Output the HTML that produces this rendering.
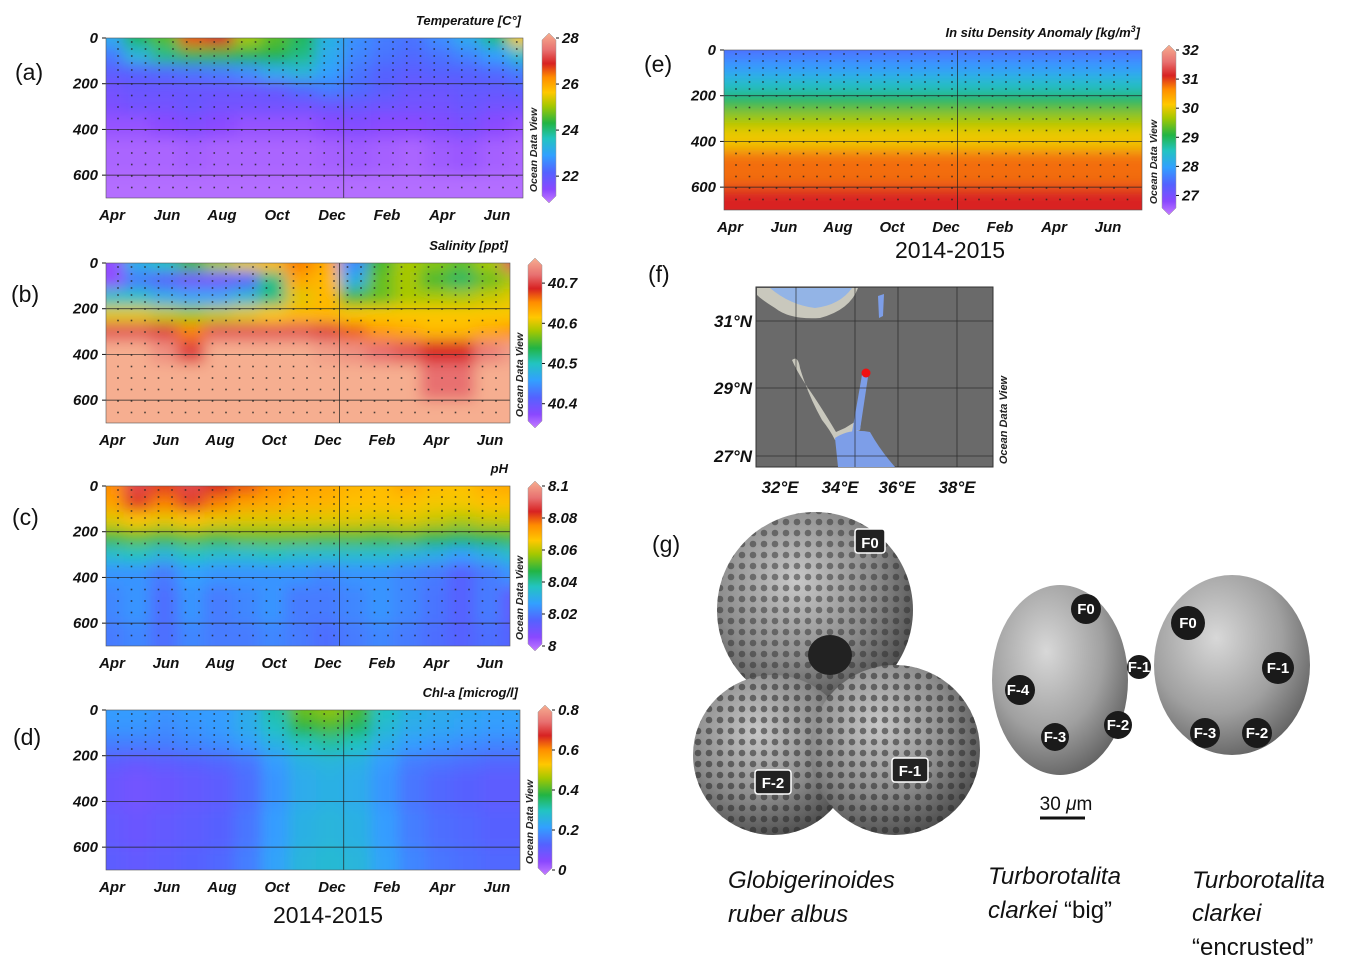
<!DOCTYPE html>
<html><head><meta charset="utf-8">
<style>
html,body{margin:0;padding:0;background:#fff;}
body{width:1359px;height:971px;overflow:hidden;position:relative;font-family:"Liberation Sans",sans-serif;}
svg text{font-family:"Liberation Sans",sans-serif;}
</style></head>
<body>
<svg id="fig" width="1359" height="971" viewBox="0 0 1359 971" xmlns="http://www.w3.org/2000/svg">
<defs>
<filter id="blur" x="-5%" y="-5%" width="110%" height="110%"><feGaussianBlur stdDeviation="7"/></filter>
<radialGradient id="foram" cx="40%" cy="35%" r="70%"><stop offset="0" stop-color="#c8c8c8"/><stop offset="0.6" stop-color="#8a8a8a"/><stop offset="1" stop-color="#4a4a4a"/></radialGradient>
<radialGradient id="foram2" cx="40%" cy="35%" r="70%"><stop offset="0" stop-color="#d8d8d8"/><stop offset="0.6" stop-color="#a0a0a0"/><stop offset="1" stop-color="#606060"/></radialGradient>
<pattern id="pores" width="11" height="11" patternUnits="userSpaceOnUse"><circle cx="5" cy="5" r="3.3" fill="#2a2a2a" opacity="0.7"/></pattern>
</defs>
<g id="plots"></g>
<g id="map">
 <rect x="756" y="287" width="237" height="180" fill="#6a6a6a" stroke="#333"/>
 <path d="M757 288 L858 288 Q850 310 820 318 Q790 320 775 308 Q762 300 757 295 Z" fill="#c9c8bd"/>
 <path d="M770 288 L852 288 Q840 305 815 308 Q790 305 770 288Z" fill="#93b4e6"/>
 <path d="M878 296 L884 294 L883 316 L879 318Z" fill="#7d9ee8"/>
 <path d="M792 360 Q798 355 800 368 Q808 395 822 420 Q830 430 835 440 L850 435 L860 430 L866 380 L862 375 L858 420 L845 428 L836 432 Q820 405 808 388 Q797 372 792 360Z" fill="#c9c8bd"/>
 <path d="M862 375 L868 377 L860 430 L852 432Z" fill="#7d9ee8"/>
 <path d="M835 438 Q850 428 870 432 Q880 450 895 467 L838 467Z" fill="#7d9ee8"/>
 <g stroke="#222" stroke-width="0.8" opacity="0.8">
  <line x1="796" y1="287" x2="796" y2="467"/><line x1="855" y1="287" x2="855" y2="467"/><line x1="898" y1="287" x2="898" y2="467"/><line x1="957" y1="287" x2="957" y2="467"/>
  <line x1="756" y1="321" x2="993" y2="321"/><line x1="756" y1="388" x2="993" y2="388"/><line x1="756" y1="456" x2="993" y2="456"/>
 </g>
 <circle cx="866" cy="373" r="4.5" fill="#f01010"/>
 <g font-weight="bold" font-style="italic" font-size="17" fill="#111">
  <text x="752" y="327" text-anchor="end">31°N</text><text x="752" y="394" text-anchor="end">29°N</text><text x="752" y="462" text-anchor="end">27°N</text>
  <text x="780" y="493" text-anchor="middle">32°E</text><text x="840" y="493" text-anchor="middle">34°E</text><text x="897" y="493" text-anchor="middle">36°E</text><text x="957" y="493" text-anchor="middle">38°E</text>
 </g>
 <text transform="translate(1007,420) rotate(-90)" text-anchor="middle" font-size="11" font-weight="bold" font-style="italic" fill="#222">Ocean Data View</text>
</g>
<g id="forams">
 <circle cx="815" cy="610" r="98" fill="url(#foram)"/>
 <circle cx="815" cy="610" r="98" fill="url(#pores)" opacity="0.7"/>
 <circle cx="773" cy="755" r="80" fill="url(#foram)"/>
 <circle cx="773" cy="755" r="80" fill="url(#pores)" opacity="0.8"/>
 <circle cx="895" cy="750" r="85" fill="url(#foram)"/>
 <circle cx="895" cy="750" r="85" fill="url(#pores)" opacity="0.8"/>
 <ellipse cx="830" cy="655" rx="22" ry="20" fill="#222"/>
 <g fill="#222" stroke="#fff" stroke-width="1.5"><rect x="855" y="529" width="30" height="24" rx="3"/><rect x="755" y="770" width="36" height="24" rx="3"/><rect x="892" y="758" width="36" height="24" rx="3"/></g>
 <ellipse cx="1060" cy="680" rx="68" ry="95" fill="url(#foram2)"/>
 <ellipse cx="1232" cy="665" rx="78" ry="90" fill="url(#foram2)"/>
 <g fill="#1a1a1a">
  <circle cx="1086" cy="609" r="15"/><circle cx="1020" cy="690" r="15"/><circle cx="1055" cy="737" r="14"/><circle cx="1118" cy="725" r="14"/><circle cx="1139" cy="667" r="12"/>
  <circle cx="1188" cy="623" r="17"/><circle cx="1278" cy="668" r="16"/><circle cx="1205" cy="733" r="15"/><circle cx="1257" cy="733" r="15"/>
 </g>
 <g fill="#fff" font-weight="bold" font-size="15" text-anchor="middle">
  <text x="870" y="548">F0</text><text x="773" y="788">F-2</text><text x="910" y="776">F-1</text>
  <text x="1086" y="614">F0</text><text x="1018" y="695">F-4</text><text x="1055" y="742">F-3</text><text x="1118" y="730">F-2</text><text x="1139" y="672">F-1</text>
  <text x="1188" y="628">F0</text><text x="1278" y="673">F-1</text><text x="1205" y="738">F-3</text><text x="1257" y="738">F-2</text>
 </g>
 <line x1="1040" y1="818" x2="1085" y2="818" stroke="#111" stroke-width="3"/>
 <text x="1066" y="810" text-anchor="middle" font-size="19" fill="#111">30 <tspan font-style="italic">μ</tspan>m</text>
 <g font-size="24" fill="#111" font-family="Liberation Sans">
  <text x="728" y="888" font-style="italic">Globigerinoides</text><text x="728" y="922" font-style="italic">ruber albus</text>
  <text x="988" y="884" font-style="italic">Turborotalita</text><text x="988" y="918"><tspan font-style="italic">clarkei</tspan> “big”</text>
  <text x="1192" y="888" font-style="italic">Turborotalita</text><text x="1192" y="921" font-style="italic">clarkei</text><text x="1192" y="955">“encrusted”</text>
 </g>
</g>
<g font-size="23" fill="#111">
 <text x="15" y="80">(a)</text>
 <text x="11" y="302">(b)</text>
 <text x="12" y="525">(c)</text>
 <text x="13" y="745">(d)</text>
 <text x="644" y="72">(e)</text>
 <text x="648" y="282">(f)</text>
 <text x="652" y="552">(g)</text>
 <text x="328" y="923" text-anchor="middle">2014-2015</text>
 <text x="950" y="258" text-anchor="middle">2014-2015</text>
</g>
</svg>
<script>
// depth levels (m) shared by all panels
const depths = [0, 75, 150, 225, 300, 375, 500, 700];
// months Apr 2014 .. Jul 2015
const monthLabels = ["Apr","Jun","Aug","Oct","Dec","Feb","Apr","Jun"];
const depthTicks = [0, 200, 400, 600];

const tempValues = [
 [23.2,24.2,24.6,26.5,26.8,25.0,24.6,24.2,23.3,22.8,22.6,22.5,22.8,23.2,24.0,25.5],
 [22.6,23.4,24.0,24.4,24.4,24.3,24.3,24.0,23.2,22.7,22.5,22.4,22.5,22.7,23.0,23.6],
 [22.2,22.3,22.4,22.5,22.6,22.8,23.2,23.4,23.0,22.5,22.3,22.2,22.3,22.3,22.4,22.6],
 [21.9,22.0,22.0,22.0,22.0,22.0,22.1,22.4,22.6,22.4,22.2,22.0,22.0,22.1,22.1,22.2],
 [21.8,21.9,21.9,22.0,21.9,21.9,21.9,21.9,22.0,22.0,21.95,21.9,21.9,22.0,21.9,21.9],
 [21.5,21.5,21.6,21.7,21.6,21.5,21.5,21.5,21.6,21.7,21.6,21.6,21.7,21.8,21.6,21.5],
 [21.3,21.3,21.3,21.35,21.3,21.3,21.3,21.3,21.35,21.4,21.35,21.3,21.4,21.45,21.35,21.3],
 [21.2,21.2,21.2,21.2,21.2,21.2,21.2,21.2,21.2,21.2,21.2,21.2,21.2,21.2,21.2,21.2]];
const salValues = [
 [40.38,40.48,40.50,40.55,40.58,40.60,40.62,40.65,40.63,40.45,40.55,40.58,40.57,40.56,40.58,40.70],
 [40.38,40.44,40.42,40.40,40.40,40.42,40.52,40.63,40.62,40.48,40.56,40.58,40.55,40.53,40.56,40.58],
 [40.50,40.50,40.48,40.47,40.47,40.49,40.52,40.60,40.62,40.55,40.56,40.58,40.58,40.58,40.59,40.60],
 [40.60,40.60,40.59,40.58,40.59,40.60,40.61,40.62,40.62,40.61,40.61,40.61,40.61,40.61,40.61,40.61],
 [40.70,40.70,40.69,40.65,40.70,40.70,40.70,40.70,40.69,40.66,40.64,40.63,40.62,40.62,40.63,40.64],
 [40.76,40.76,40.73,40.69,40.75,40.76,40.76,40.75,40.74,40.73,40.71,40.70,40.68,40.68,40.72,40.74],
 [40.77,40.77,40.76,40.75,40.77,40.77,40.77,40.77,40.76,40.76,40.76,40.75,40.71,40.71,40.75,40.77],
 [40.78,40.78,40.78,40.78,40.78,40.78,40.78,40.78,40.78,40.78,40.78,40.78,40.77,40.77,40.78,40.78]];
const phValues = [
 [8.074,8.086,8.080,8.086,8.082,8.078,8.074,8.071,8.070,8.068,8.067,8.070,8.067,8.066,8.069,8.070],
 [8.071,8.080,8.075,8.080,8.075,8.071,8.070,8.068,8.068,8.066,8.066,8.066,8.064,8.064,8.066,8.066],
 [8.062,8.065,8.063,8.065,8.063,8.062,8.062,8.062,8.062,8.062,8.061,8.062,8.060,8.058,8.060,8.060],
 [8.050,8.052,8.050,8.052,8.050,8.052,8.052,8.052,8.051,8.051,8.050,8.051,8.048,8.046,8.048,8.050],
 [8.036,8.038,8.034,8.038,8.036,8.036,8.038,8.036,8.036,8.036,8.036,8.034,8.032,8.028,8.032,8.036],
 [8.026,8.026,8.022,8.028,8.026,8.026,8.026,8.026,8.024,8.026,8.026,8.024,8.022,8.018,8.022,8.026],
 [8.024,8.026,8.020,8.026,8.022,8.024,8.026,8.022,8.022,8.024,8.026,8.024,8.021,8.018,8.022,8.016],
 [8.022,8.024,8.020,8.024,8.022,8.022,8.024,8.022,8.020,8.022,8.024,8.022,8.020,8.018,8.020,8.018]];
const chlValues = [
 [0.22,0.22,0.21,0.22,0.22,0.25,0.32,0.42,0.44,0.40,0.30,0.26,0.25,0.24,0.23,0.23],
 [0.21,0.21,0.20,0.21,0.22,0.25,0.30,0.38,0.40,0.36,0.28,0.25,0.24,0.23,0.22,0.22],
 [0.18,0.18,0.18,0.19,0.20,0.22,0.26,0.30,0.32,0.30,0.25,0.22,0.21,0.20,0.19,0.19],
 [0.13,0.12,0.13,0.14,0.15,0.17,0.22,0.26,0.27,0.26,0.22,0.18,0.17,0.16,0.15,0.15],
 [0.11,0.10,0.11,0.12,0.13,0.16,0.21,0.25,0.26,0.25,0.21,0.17,0.15,0.14,0.13,0.13],
 [0.11,0.10,0.11,0.12,0.13,0.16,0.21,0.25,0.26,0.25,0.21,0.17,0.15,0.14,0.13,0.13],
 [0.12,0.11,0.12,0.13,0.14,0.17,0.22,0.26,0.27,0.26,0.22,0.18,0.16,0.15,0.14,0.14],
 [0.13,0.12,0.13,0.14,0.15,0.18,0.23,0.27,0.28,0.27,0.23,0.19,0.17,0.16,0.15,0.15]];
const denProfile = [27.6, 28.0, 28.5, 29.0, 29.6, 30.0, 30.7, 31.0];

const stops = [[0,"#c47cff"],[0.08,"#8a48ff"],[0.18,"#5462ff"],[0.28,"#32a0ff"],[0.38,"#22c4c0"],[0.47,"#22b444"],[0.57,"#a4c800"],[0.65,"#ffc800"],[0.74,"#ff8c00"],[0.82,"#d82222"],[0.9,"#e87070"],[1,"#f6ae90"]];
function hex(c){return [1,3,5].map(i=>parseInt(c.substr(i,2),16));}
function cmap(t){t=Math.max(0,Math.min(1,t));for(let i=1;i<stops.length;i++){if(t<=stops[i][0]){const a=stops[i-1],b=stops[i];const f=(t-a[0])/(b[0]-a[0]);const ca=hex(a[1]),cb=hex(b[1]);return "rgb("+ca.map((v,k)=>Math.round(v+(cb[k]-v)*f)).join(",")+")";}}return stops[stops.length-1][1];}

const NS="http://www.w3.org/2000/svg";
function el(tag,attrs,parent){const e=document.createElementNS(NS,tag);for(const k in attrs)e.setAttribute(k,attrs[k]);parent.appendChild(e);return e;}
const root=document.getElementById("plots");
let gid=0;
function panel(p){
 gid++;
 const g=el("g",{},root);
 
 
 const xOf=m=>p.x0+4+m*p.ppm;
 const yOf=d=>p.y0+d/700*(p.y1-p.y0);
 const cbY=v=>p.y1-(v-p.vmin)/(p.vmax-p.vmin)*(p.y1-p.y0);
 const cp=el("clipPath",{id:"cp"+gid},g);
 el("rect",{x:p.x0,y:p.y0,width:p.x1-p.x0,height:p.y1-p.y0},cp);
 const clip=el("g",{"clip-path":"url(#cp"+gid+")"},g);
 const hm=el("g",{filter:"url(#blur)"},clip);
 const nm=p.values[0].length;
 for(let i=0;i<depths.length;i++){
  const yt=i==0?p.y0-25:(yOf(depths[i-1])+yOf(depths[i]))/2;
  const yb=i==depths.length-1?p.y1+25:(yOf(depths[i])+yOf(depths[i+1]))/2;
  for(let j=0;j<nm;j++){
   const xl=j==0?p.x0-25:xOf(j-0.5);
   const xr=j==nm-1?p.x1+25:xOf(j+0.5);
   const r=el("rect",{x:xl,y:yt,width:xr-xl+0.5,height:yb-yt+0.5,fill:cmap((p.values[i][j]-p.vmin)/(p.vmax-p.vmin))},hm);
   
   
  }
 }
 const dots=el("g",{fill:"#222",opacity:"0.8"},clip);
 for(let x=p.x0+12;x<p.x1-2;x+=p.ppm/2){for(let y=p.y0+4;y<yOf(p.dotDepth);y+=(y<p.y0+45?7:11.5)){el("rect",{x:x-0.8,y:y-0.8,width:1.6,height:1.6},dots);}}
 depthTicks.slice(1).forEach(d=>el("line",{x1:p.x0,x2:p.x1,y1:yOf(d),y2:yOf(d),stroke:"#222","stroke-width":0.7},g));
 el("line",{x1:xOf(8.5),x2:xOf(8.5),y1:p.y0,y2:p.y1,stroke:"#222","stroke-width":0.7},g);
 const tk=el("g",{"font-size":"15","font-weight":"bold","font-style":"italic",fill:"#111"},g);
 depthTicks.forEach(d=>{const t=el("text",{x:p.x0-8,y:yOf(d)+5,"text-anchor":"end"},tk);t.textContent=d;
  
  
  el("line",{x1:p.x0-4,x2:p.x0,y1:yOf(d),y2:yOf(d),stroke:"#111"},g);});
 monthLabels.forEach((m,k)=>{const t=el("text",{x:xOf(2*k)+2,y:p.y1+22,"text-anchor":"middle"},tk);t.textContent=m;
  
  });
 const ti=el("text",{x:p.x1-2,y:p.y0-13,"text-anchor":"end","font-size":"13","font-weight":"bold","font-style":"italic",fill:"#111"},g);
 ti.innerHTML=p.title;
 
 
 const cb=el("g",{},g);
 
 
 const lg=el("linearGradient",{id:"cbg"+gid,x1:0,y1:1,x2:0,y2:0},cb);
 stops.forEach(s=>el("stop",{offset:s[0],"stop-color":s[1]},lg));
 const w=14,cx=p.cbx;
 el("path",{d:`M${cx} ${p.y0+2} L${cx+w/2} ${p.y0-5} L${cx+w} ${p.y0+2} L${cx+w} ${p.y1-2} L${cx+w/2} ${p.y1+5} L${cx} ${p.y1-2}Z`,fill:"url(#cbg"+gid+")",stroke:"#999","stroke-width":0.5},cb);
 p.cbTicks.forEach(v=>{const t=el("text",{x:cx+w+6,y:cbY(v)+5,"font-size":"15","font-weight":"bold","font-style":"italic",fill:"#111"},cb);t.textContent=v;
  el("line",{x1:cx+w,x2:cx+w+3,y1:cbY(v),y2:cbY(v),stroke:"#111"},cb);});
 const od=el("text",{transform:`translate(${cx-5},${(p.y0+p.y1)/2+32}) rotate(-90)`,"text-anchor":"middle","font-size":"10.5","font-weight":"bold","font-style":"italic",fill:"#222"},cb);
 od.textContent="Ocean Data View";
 el("rect",{x:p.x0,y:p.y0,width:p.x1-p.x0,height:p.y1-p.y0,fill:"none",stroke:"#555","stroke-width":0.6},g);
}
panel({name:"temperature-panel",x0:106,x1:523,y0:38,y1:198,ppm:27.5,values:tempValues,vmin:21.05,vmax:28,cbx:542,cbTicks:[22,24,26,28],title:"Temperature [C°]",dotDepth:700});
panel({name:"salinity-panel",x0:106,x1:510,y0:263,y1:423,ppm:27,values:salValues,vmin:40.352,vmax:40.75,cbx:528,cbTicks:[40.4,40.5,40.6,40.7],title:"Salinity [ppt]",dotDepth:700});
panel({name:"ph-panel",x0:106,x1:510,y0:486,y1:646,ppm:27,values:phValues,vmin:8.0,vmax:8.1,cbx:528,cbTicks:[8,8.02,8.04,8.06,8.08,8.1],title:"pH",dotDepth:700});
panel({name:"chla-panel",x0:106,x1:520,y0:710,y1:870,ppm:27.5,values:chlValues,vmin:0,vmax:0.8,cbx:538,cbTicks:[0,0.2,0.4,0.6,0.8],title:"Chl-a [microg/l]",dotDepth:200});
const denValues=denProfile.map(v=>Array(16).fill(v));
panel({name:"density-panel",x0:724,x1:1142,y0:50,y1:210,ppm:27,values:denValues,vmin:26.5,vmax:32.0,cbx:1162,cbTicks:[27,28,29,30,31,32],title:"In situ Density Anomaly [kg/m<tspan dy='-5' font-size='9'>3</tspan><tspan dy='5'>]</tspan>",dotDepth:700});
</script>
</body></html>
